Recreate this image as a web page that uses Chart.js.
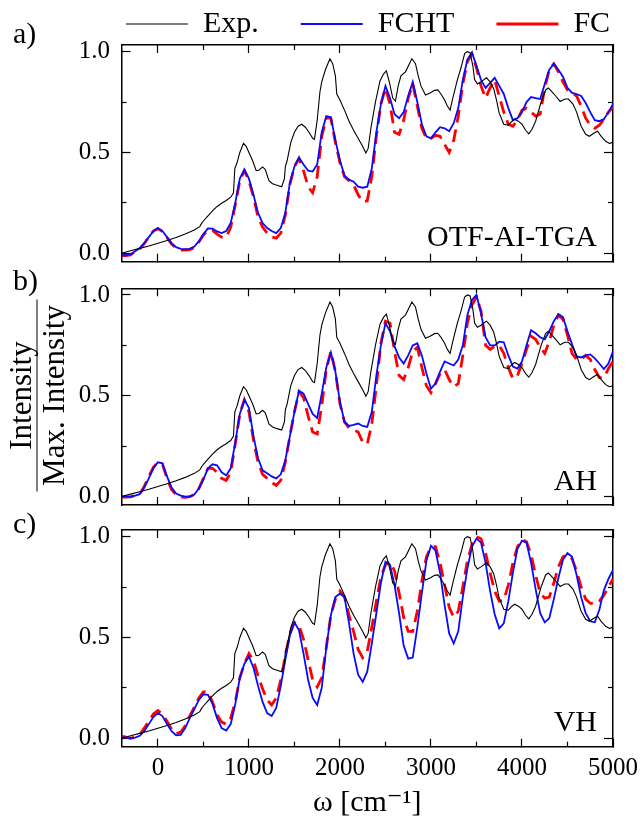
<!DOCTYPE html>
<html>
<head>
<meta charset="utf-8">
<script src="https://cdn.jsdelivr.net/npm/chart.js@4.4.1/dist/chart.umd.min.js"></script>
<style>
  body { margin: 0; background: #fff; }
  #fig { position: relative; width: 642px; height: 820px; overflow: hidden; font-family: "Liberation Serif", "DejaVu Serif", serif; color: #000; }
  canvas { position: absolute; left: 0; }
  .txt { position: absolute; font-size: 30px; line-height: 30px; white-space: nowrap; }
  #ylab { position: absolute; left: -59px; top: 363px; width: 192px; transform: rotate(-90deg); transform-origin: 50% 50%; text-align: center; font-size: 31px; line-height: 32px; }
  #ylab span { display: block; }
  #ylab .num { border-bottom: 1.5px solid #000; }
</style>
</head>
<body>
<div id="fig">
  <canvas id="panelA" width="736" height="300" style="top:-33px"></canvas>
  <canvas id="panelB" width="642" height="245" style="top:270px"></canvas>
  <canvas id="panelC" width="642" height="308" style="top:512px"></canvas>

  <div class="txt" style="left:13px;top:18px">a)</div>
  <div class="txt" style="left:13px;top:265px">b)</div>
  <div class="txt" style="left:13px;top:508px">c)</div>

  <div class="txt" style="right:45px;top:221px">OTF-AI-TGA</div>
  <div class="txt" style="right:45px;top:465px">AH</div>
  <div class="txt" style="right:45px;top:706px">VH</div>

  <div id="ylab"><span class="num">Intensity</span><span>Max. Intensity</span></div>
</div>

<script>
// wavenumber window and intensity window shared by the three panels
const X_MIN = -400, X_MAX = 5000;
const Y_MIN = -0.042, Y_MAX = 1.033;

const xMajorTicks = [0, 1000, 2000, 3000, 4000, 5000];
const xMinorTicks = [500, 1500, 2500, 3500, 4500];
const yMajorTicks = [0, 0.5, 1.0];
const yMinorTicks = [0.25, 0.75];

// measured spectrum (same in every panel)
const expW = [-400, -300, -200, -100, 0, 100, 200, 300, 400, 460,
  480, 500, 550, 600, 650, 700, 750, 800, 830, 845,
  870, 900, 940, 970, 1000, 1040, 1080, 1110, 1150, 1180,
  1220, 1260, 1300, 1360, 1390, 1400, 1420, 1460, 1500, 1540,
  1580, 1620, 1660, 1700, 1720, 1750, 1780, 1800, 1840, 1890,
  1920, 1950, 1965, 2000, 2050, 2100, 2150, 2200, 2250, 2285,
  2310, 2340, 2390, 2440, 2480, 2510, 2545, 2580, 2610, 2640,
  2670, 2720, 2790, 2830, 2860, 2890, 2940, 2990, 3040, 3075,
  3110, 3150, 3180, 3210, 3240, 3290, 3330, 3370, 3400, 3430,
  3460, 3480, 3510, 3550, 3610, 3650, 3690, 3720, 3750, 3800,
  3850, 3890, 3920, 3960, 4000, 4040, 4075, 4110, 4150, 4210,
  4260, 4290, 4330, 4370, 4420, 4470, 4510, 4560, 4600, 4650,
  4700, 4740, 4790, 4830, 4870, 4920, 4960, 5000];
const expI = [0.0, 0.012, 0.024, 0.036, 0.05, 0.063, 0.078, 0.095, 0.115, 0.132,
  0.148, 0.16, 0.185, 0.21, 0.232, 0.248, 0.262, 0.278, 0.3, 0.42,
  0.45, 0.5, 0.545, 0.53, 0.5, 0.46, 0.41, 0.412, 0.428, 0.415,
  0.36, 0.345, 0.338, 0.33, 0.37, 0.43, 0.46, 0.55, 0.6, 0.63,
  0.64, 0.625, 0.6, 0.57, 0.565, 0.66, 0.8, 0.85, 0.91, 0.965,
  0.94, 0.88, 0.79, 0.76, 0.71, 0.655, 0.61, 0.57, 0.53, 0.497,
  0.52, 0.62, 0.75, 0.855, 0.89, 0.905, 0.845, 0.77, 0.755, 0.83,
  0.88, 0.9, 0.965, 0.94, 0.88, 0.83, 0.785, 0.795, 0.808, 0.81,
  0.79, 0.76, 0.73, 0.71, 0.77, 0.86, 0.92, 0.99, 1.0, 0.995,
  0.93, 0.86, 0.84, 0.85, 0.87, 0.85, 0.815, 0.76, 0.695, 0.64,
  0.635, 0.655, 0.665, 0.655, 0.64, 0.61, 0.592, 0.615, 0.655, 0.75,
  0.81, 0.82, 0.8, 0.78, 0.753, 0.765, 0.765, 0.74, 0.7, 0.63,
  0.59, 0.58, 0.595, 0.605, 0.58, 0.555, 0.545, 0.55];

// computed spectra, sampled every 50 cm-1
const omega = [-400, -350, -300, -250, -200, -150, -100, -50, 0, 50,
  100, 150, 200, 250, 300, 350, 400, 450, 500, 550,
  600, 650, 700, 750, 800, 850, 900, 950, 1000, 1050,
  1100, 1150, 1200, 1250, 1300, 1350, 1400, 1450, 1500, 1550,
  1600, 1650, 1700, 1750, 1800, 1850, 1900, 1950, 2000, 2050,
  2100, 2150, 2200, 2250, 2300, 2350, 2400, 2450, 2500, 2550,
  2600, 2650, 2700, 2750, 2800, 2850, 2900, 2950, 3000, 3050,
  3100, 3150, 3200, 3250, 3300, 3350, 3400, 3450, 3500, 3550,
  3600, 3650, 3700, 3750, 3800, 3850, 3900, 3950, 4000, 4050,
  4100, 4150, 4200, 4250, 4300, 4350, 4400, 4450, 4500, 4550,
  4600, 4650, 4700, 4750, 4800, 4850, 4900, 4950, 5000];

// a) OTF-AI-TGA
const fchtA = [-0.01, -0.01, -0.005, 0.01, 0.025, 0.05, 0.08, 0.11, 0.125, 0.11,
  0.08, 0.05, 0.03, 0.022, 0.02, 0.022, 0.033, 0.06, 0.095, 0.123,
  0.122, 0.108, 0.1, 0.11, 0.15, 0.25, 0.37, 0.415, 0.37, 0.29,
  0.2, 0.15, 0.125, 0.11, 0.1, 0.125, 0.2, 0.35, 0.43, 0.475,
  0.44, 0.41, 0.405, 0.44, 0.6, 0.68, 0.675, 0.56, 0.46, 0.385,
  0.365, 0.355, 0.33, 0.325, 0.33, 0.42, 0.6, 0.74, 0.83, 0.77,
  0.69, 0.67, 0.7, 0.78, 0.85, 0.75, 0.64, 0.58, 0.57, 0.6,
  0.625, 0.62, 0.605, 0.645, 0.72, 0.86, 0.96, 0.995, 0.93, 0.86,
  0.82, 0.845, 0.87, 0.83, 0.79, 0.72, 0.66, 0.67, 0.7, 0.75,
  0.775, 0.77, 0.765, 0.84, 0.91, 0.94, 0.91, 0.876, 0.82, 0.795,
  0.79, 0.78, 0.745, 0.7, 0.66, 0.655, 0.665, 0.7, 0.74];
const fcA = [-0.012, -0.012, -0.008, 0.008, 0.022, 0.048, 0.08, 0.11, 0.122, 0.108,
  0.078, 0.045, 0.025, 0.016, 0.015, 0.018, 0.028, 0.055, 0.09, 0.115,
  0.113, 0.095, 0.08, 0.078, 0.13, 0.24, 0.36, 0.41, 0.36, 0.28,
  0.18, 0.13, 0.1, 0.08, 0.075, 0.1, 0.19, 0.34, 0.43, 0.47,
  0.41, 0.33, 0.3, 0.38, 0.58, 0.67, 0.67, 0.55, 0.45, 0.38,
  0.36, 0.34, 0.29, 0.255, 0.26, 0.38, 0.58, 0.74, 0.82, 0.74,
  0.6, 0.59, 0.66, 0.77, 0.84, 0.73, 0.62, 0.57, 0.57, 0.585,
  0.58, 0.54, 0.5, 0.56, 0.68, 0.84, 0.95, 0.99, 0.92, 0.83,
  0.77, 0.82, 0.86, 0.78, 0.7, 0.64, 0.63, 0.66, 0.71, 0.72,
  0.7, 0.68, 0.69, 0.82, 0.91, 0.94, 0.9, 0.85, 0.81, 0.795,
  0.78, 0.73, 0.67, 0.635, 0.62, 0.635, 0.665, 0.7, 0.725];

// b) AH
const fchtB = [0.0, 0.0, 0.0, 0.005, 0.012, 0.045, 0.09, 0.14, 0.17, 0.165,
  0.1, 0.045, 0.015, 0.005, 0.0, 0.0, 0.01, 0.04, 0.085, 0.14,
  0.16, 0.155, 0.12, 0.105, 0.14, 0.27, 0.41, 0.48, 0.44, 0.3,
  0.19, 0.13, 0.115, 0.1, 0.09, 0.11, 0.18, 0.3, 0.42, 0.525,
  0.51, 0.46, 0.41, 0.39, 0.51, 0.64, 0.715, 0.62, 0.47, 0.37,
  0.35, 0.355, 0.362, 0.35, 0.345, 0.42, 0.6, 0.75, 0.86, 0.82,
  0.745, 0.69, 0.66, 0.7, 0.75, 0.76, 0.7, 0.61, 0.535, 0.56,
  0.62, 0.67, 0.66, 0.65, 0.68, 0.75, 0.9, 0.975, 1.0, 0.91,
  0.79, 0.75, 0.75, 0.768, 0.765, 0.7, 0.645, 0.635, 0.67, 0.75,
  0.825, 0.81, 0.79, 0.78, 0.82, 0.87, 0.905, 0.89, 0.82, 0.755,
  0.695, 0.69, 0.7, 0.705, 0.685, 0.66, 0.632, 0.66, 0.72];
const fcB = [-0.003, -0.003, -0.002, 0.005, 0.012, 0.05, 0.1, 0.145, 0.17, 0.16,
  0.09, 0.035, 0.008, -0.002, -0.004, 0.0, 0.01, 0.04, 0.09, 0.14,
  0.14, 0.12, 0.09, 0.08, 0.12, 0.26, 0.41, 0.48, 0.42, 0.28,
  0.17, 0.11, 0.09, 0.07, 0.055, 0.08, 0.17, 0.3, 0.42, 0.52,
  0.49, 0.4, 0.32, 0.31, 0.45, 0.63, 0.72, 0.62, 0.46, 0.37,
  0.34, 0.33, 0.32, 0.27, 0.26, 0.36, 0.55, 0.76, 0.87, 0.86,
  0.72, 0.6, 0.58, 0.64, 0.72, 0.74, 0.64, 0.55, 0.515, 0.56,
  0.61, 0.63, 0.58, 0.545, 0.56, 0.7, 0.86, 0.95, 0.99, 0.92,
  0.75, 0.73, 0.745, 0.75, 0.71, 0.64, 0.585, 0.6, 0.66, 0.73,
  0.795, 0.78, 0.74, 0.71, 0.77, 0.85, 0.9, 0.88, 0.8, 0.71,
  0.68, 0.68, 0.7, 0.68, 0.63, 0.59, 0.59, 0.635, 0.67];

// c) VH
const fchtC = [0.005, 0.002, 0.0, 0.003, 0.012, 0.035, 0.07, 0.105, 0.125, 0.11,
  0.07, 0.035, 0.015, 0.017, 0.05, 0.1, 0.145, 0.19, 0.218, 0.215,
  0.17, 0.1, 0.05, 0.038, 0.07, 0.17, 0.3, 0.37, 0.405, 0.35,
  0.26, 0.18, 0.125, 0.11, 0.15, 0.26, 0.39, 0.51, 0.575, 0.535,
  0.42, 0.29, 0.2, 0.165, 0.25, 0.45, 0.61, 0.7, 0.718, 0.7,
  0.57, 0.42, 0.315, 0.28, 0.33, 0.47, 0.62, 0.77, 0.875, 0.86,
  0.76, 0.62, 0.46, 0.395, 0.4, 0.55, 0.72, 0.88, 0.955, 0.93,
  0.82, 0.66, 0.52, 0.47, 0.53, 0.7, 0.84, 0.95, 0.99, 0.97,
  0.87, 0.73, 0.615, 0.545, 0.57, 0.68, 0.82, 0.94, 0.98, 0.97,
  0.87, 0.74, 0.62, 0.575, 0.595, 0.69, 0.795, 0.885, 0.918, 0.9,
  0.81, 0.7, 0.62, 0.58, 0.575, 0.637, 0.735, 0.79, 0.835];
const fcC = [0.01, 0.005, 0.0, 0.005, 0.017, 0.05, 0.085, 0.12, 0.137, 0.12,
  0.085, 0.045, 0.022, 0.03, 0.062, 0.11, 0.155, 0.2, 0.23, 0.23,
  0.18, 0.115, 0.08, 0.07, 0.1, 0.18, 0.3, 0.37, 0.42, 0.385,
  0.31, 0.245, 0.19, 0.165, 0.2, 0.29, 0.41, 0.52, 0.575, 0.56,
  0.49, 0.39, 0.29, 0.255, 0.3, 0.45, 0.61, 0.69, 0.73, 0.7,
  0.61, 0.53, 0.44, 0.4, 0.43, 0.55, 0.68, 0.8, 0.86, 0.875,
  0.83, 0.72, 0.6, 0.53, 0.53, 0.63, 0.78, 0.9, 0.95, 0.95,
  0.87, 0.76, 0.65, 0.6, 0.63, 0.75, 0.88, 0.96, 1.0, 0.99,
  0.92, 0.82, 0.73, 0.68, 0.685, 0.76, 0.87, 0.95, 0.985, 0.975,
  0.91, 0.81, 0.72, 0.695, 0.7, 0.77, 0.85, 0.9, 0.91, 0.89,
  0.83, 0.75, 0.69, 0.67, 0.665, 0.68, 0.71, 0.75, 0.79];

Chart.defaults.font.family = '"Liberation Serif", "DejaVu Serif", serif';
Chart.defaults.color = '#000';

const pairs = (xs, ys) => xs.map((x, i) => ({ x: x, y: ys[i] }));

function spectra(fcht, fc) {
  return [
    { label: 'Exp.', data: pairs(expW, expI), borderColor: '#000', borderWidth: 1.1 },
    { label: 'FCHT', data: pairs(omega, fcht), borderColor: '#0a0aff', borderWidth: 1.8 },
    { label: 'FC', data: pairs(omega, fc), borderColor: '#ff0000', borderWidth: 2.8, borderDash: [13, 7] }
  ];
}

// fixed box size for an axis, without the extra room chart.js keeps for edge labels
function fixSize(size) {
  return s => {
    if (s.isHorizontal()) s.height = size; else s.width = size;
    s.paddingTop = s.paddingBottom = s.paddingLeft = s.paddingRight = 0;
  };
}

// one axis that only carries inward tick marks at the given values
function tickAxis(axis, position, values, len, extra) {
  return Object.assign({
    type: 'linear', axis: axis, position: position, weight: 0,
    min: axis === 'x' ? X_MIN : Y_MIN,
    max: axis === 'x' ? X_MAX : Y_MAX,
    afterBuildTicks: s => { s.ticks = values.map(v => ({ value: v })); },
    grid: { drawOnChartArea: false, tickLength: -len, tickColor: '#000', tickWidth: 1.2 },
    border: { display: false },
    ticks: { display: false },
    afterFit: fixSize(0)
  }, extra || {});
}

const frame = { display: true, color: '#000', width: 1.5 };

function panelScales(p) {
  return {
    x: tickAxis('x', 'bottom', xMajorTicks, 8, {
      weight: 1, border: frame,
      ticks: p.xLabels
        ? { display: true, padding: 15, font: { size: 25 }, callback: v => String(v) }
        : { display: false },
      title: p.xLabels
        ? { display: true, text: 'ω [cm⁻¹]', font: { size: 30, lineHeight: 1.1 }, padding: 0 }
        : { display: false },
      afterFit: fixSize(p.bottomH)
    }),
    xMinor: tickAxis('x', 'bottom', xMinorTicks, 5),
    xTop: tickAxis('x', 'top', xMajorTicks, 8, { weight: 1, border: frame, afterFit: fixSize(p.topH) }),
    xTopMinor: tickAxis('x', 'top', xMinorTicks, 5),
    y: tickAxis('y', 'left', yMajorTicks, 9, {
      weight: 1, border: frame,
      ticks: { display: true, padding: 20.5, font: { size: 25 }, callback: v => v.toFixed(1) },
      afterFit: fixSize(121.5)
    }),
    yMinor: tickAxis('y', 'left', yMinorTicks, 5),
    yRight: tickAxis('y', 'right', yMajorTicks, 9, { weight: 1, border: frame, afterFit: fixSize(p.rightW) }),
    yRightMinor: tickAxis('y', 'right', yMinorTicks, 5)
  };
}

function makePanel(id, fcht, fc, p) {
  return new Chart(document.getElementById(id), {
    type: 'line',
    data: { datasets: spectra(fcht, fc) },
    options: {
      responsive: false,
      animation: false,
      events: [],
      elements: { point: { radius: 0 }, line: { tension: 0 } },
      layout: { autoPadding: false, padding: { left: 0, right: p.padR, top: 0, bottom: p.padB } },
      scales: panelScales(p),
      plugins: {
        tooltip: { enabled: false },
        legend: p.legend
          ? {
              display: true, position: 'top', maxHeight: 78,
              labels: { usePointStyle: true, pointStyle: 'line', pointStyleWidth: 62, padding: 42, font: { size: 30 } }
            }
          : { display: false }
      }
    }
  });
}

makePanel('panelA', fchtA, fcA, { legend: true, xLabels: false, topH: 0, bottomH: 0, rightW: 123, padR: 0, padB: 5.3 });
makePanel('panelB', fchtB, fcB, { legend: false, xLabels: false, topH: 18.3, bottomH: 0, rightW: 0, padR: 29, padB: 10 });
makePanel('panelC', fchtC, fcC, { legend: false, xLabels: true, topH: 18, bottomH: 73.3, rightW: 0, padR: 29, padB: 0 });
</script>
</body>
</html>
